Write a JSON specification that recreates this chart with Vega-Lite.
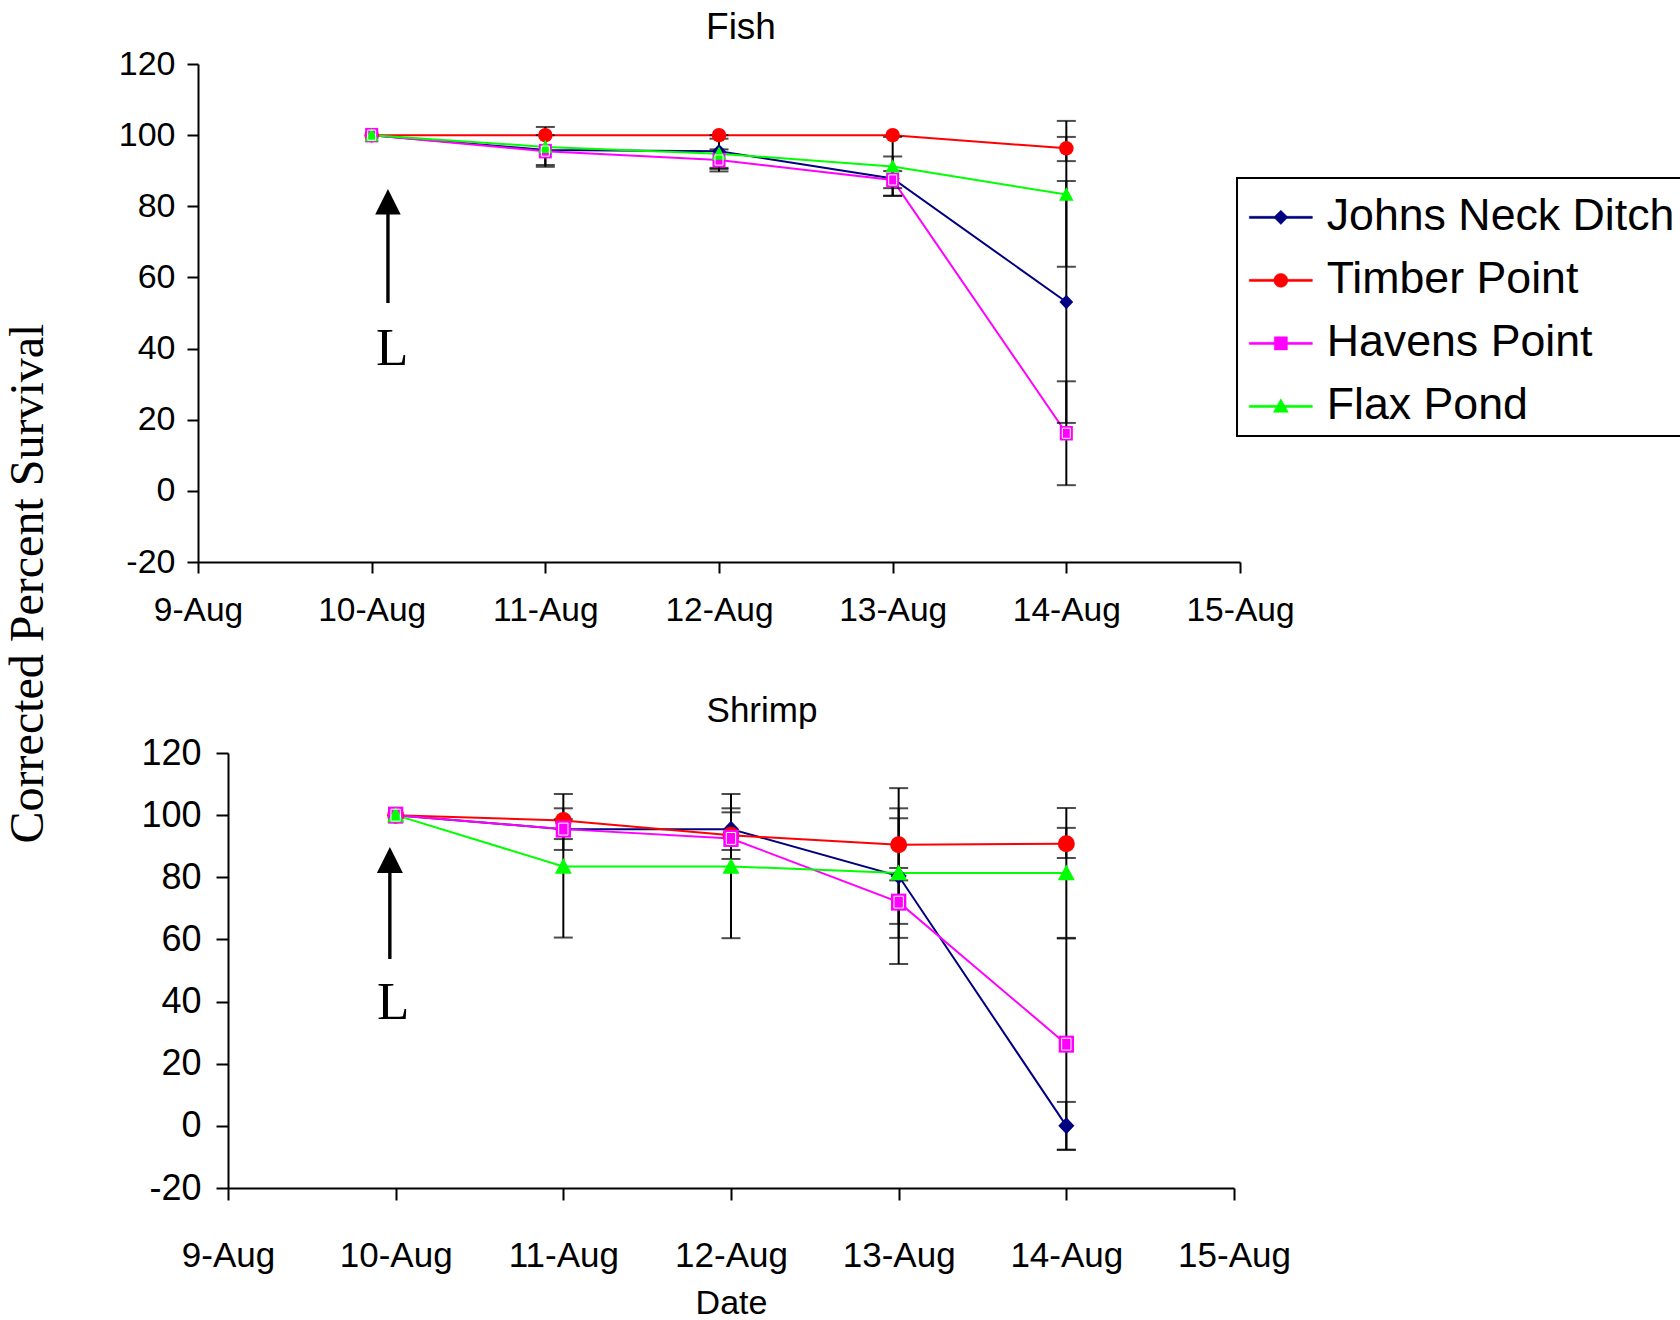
{
  "$schema": "https://vega.github.io/schema/vega-lite/v6.json",
  "background": "white",
  "padding": {"left": 5, "top": 9, "right": 0, "bottom": 0},
  "title": {"text": "Corrected Percent Survival", "orient": "left", "anchor": "middle", "font": "Liberation Serif", "fontSize": 48, "fontWeight": "normal", "color": "black", "offset": 65, "dx": 81},
  "config": {
    "view": {"stroke": null},
    "font": "Liberation Sans",
    "axis": {"domainColor": "black", "domainWidth": 2, "tickColor": "black", "tickWidth": 2, "labelColor": "black", "labelFont": "Liberation Sans", "grid": false, "titleColor": "black", "titleFontWeight": "normal", "titleFont": "Liberation Sans"},
    "title": {"color": "black", "fontWeight": "normal", "font": "Liberation Sans"}
  },
  "datasets": {
    "survival": [
      {"panel": "Fish", "site": "Johns Neck Ditch", "date": "2002-08-10", "value": 100, "lo": null, "hi": null},
      {"panel": "Fish", "site": "Johns Neck Ditch", "date": "2002-08-11", "value": 95.8, "lo": 91.6, "hi": 100},
      {"panel": "Fish", "site": "Johns Neck Ditch", "date": "2002-08-12", "value": 95.5, "lo": 90.8, "hi": 100},
      {"panel": "Fish", "site": "Johns Neck Ditch", "date": "2002-08-13", "value": 87.8, "lo": 83, "hi": 94},
      {"panel": "Fish", "site": "Johns Neck Ditch", "date": "2002-08-14", "value": 53.1, "lo": 19.1, "hi": 87.1},
      {"panel": "Fish", "site": "Timber Point", "date": "2002-08-10", "value": 100, "lo": null, "hi": null},
      {"panel": "Fish", "site": "Timber Point", "date": "2002-08-11", "value": 100, "lo": null, "hi": null},
      {"panel": "Fish", "site": "Timber Point", "date": "2002-08-12", "value": 100, "lo": null, "hi": null},
      {"panel": "Fish", "site": "Timber Point", "date": "2002-08-13", "value": 100, "lo": null, "hi": null},
      {"panel": "Fish", "site": "Timber Point", "date": "2002-08-14", "value": 96.3, "lo": 92.7, "hi": 99.5},
      {"panel": "Fish", "site": "Havens Point", "date": "2002-08-10", "value": 100, "lo": null, "hi": null},
      {"panel": "Fish", "site": "Havens Point", "date": "2002-08-11", "value": 95.5, "lo": null, "hi": null},
      {"panel": "Fish", "site": "Havens Point", "date": "2002-08-12", "value": 93, "lo": 89.8, "hi": 96},
      {"panel": "Fish", "site": "Havens Point", "date": "2002-08-13", "value": 87.4, "lo": 85.1, "hi": 89.9},
      {"panel": "Fish", "site": "Havens Point", "date": "2002-08-14", "value": 16.2, "lo": 1.6, "hi": 30.8},
      {"panel": "Fish", "site": "Flax Pond", "date": "2002-08-10", "value": 100, "lo": null, "hi": null},
      {"panel": "Fish", "site": "Flax Pond", "date": "2002-08-11", "value": 96.7, "lo": 91.1, "hi": 102.3},
      {"panel": "Fish", "site": "Flax Pond", "date": "2002-08-12", "value": 94.8, "lo": 90.5, "hi": 99},
      {"panel": "Fish", "site": "Flax Pond", "date": "2002-08-13", "value": 91.2, "lo": 82.9, "hi": 99.5},
      {"panel": "Fish", "site": "Flax Pond", "date": "2002-08-14", "value": 83.3, "lo": 63, "hi": 104},
      {"panel": "Shrimp", "site": "Johns Neck Ditch", "date": "2002-08-10", "value": 100, "lo": null, "hi": null},
      {"panel": "Shrimp", "site": "Johns Neck Ditch", "date": "2002-08-11", "value": 95.5, "lo": 88.8, "hi": 102.2},
      {"panel": "Shrimp", "site": "Johns Neck Ditch", "date": "2002-08-12", "value": 95.5, "lo": 88.8, "hi": 102.2},
      {"panel": "Shrimp", "site": "Johns Neck Ditch", "date": "2002-08-13", "value": 80.4, "lo": 52.1, "hi": 108.7},
      {"panel": "Shrimp", "site": "Johns Neck Ditch", "date": "2002-08-14", "value": 0, "lo": -7.7, "hi": 7.7},
      {"panel": "Shrimp", "site": "Timber Point", "date": "2002-08-10", "value": 100, "lo": null, "hi": null},
      {"panel": "Shrimp", "site": "Timber Point", "date": "2002-08-11", "value": 98.3, "lo": null, "hi": null},
      {"panel": "Shrimp", "site": "Timber Point", "date": "2002-08-12", "value": 93.5, "lo": null, "hi": null},
      {"panel": "Shrimp", "site": "Timber Point", "date": "2002-08-13", "value": 90.5, "lo": 83, "hi": 99},
      {"panel": "Shrimp", "site": "Timber Point", "date": "2002-08-14", "value": 90.8, "lo": 86.2, "hi": 95.9},
      {"panel": "Shrimp", "site": "Havens Point", "date": "2002-08-10", "value": 100, "lo": null, "hi": null},
      {"panel": "Shrimp", "site": "Havens Point", "date": "2002-08-11", "value": 95.5, "lo": 92.3, "hi": 98.7},
      {"panel": "Shrimp", "site": "Havens Point", "date": "2002-08-12", "value": 92.5, "lo": 85.9, "hi": 100.9},
      {"panel": "Shrimp", "site": "Havens Point", "date": "2002-08-13", "value": 72, "lo": 65, "hi": 79},
      {"panel": "Shrimp", "site": "Havens Point", "date": "2002-08-14", "value": 26.3, "lo": -7.7, "hi": 60.3},
      {"panel": "Shrimp", "site": "Flax Pond", "date": "2002-08-10", "value": 100, "lo": null, "hi": null},
      {"panel": "Shrimp", "site": "Flax Pond", "date": "2002-08-11", "value": 83.5, "lo": 60.6, "hi": 106.8},
      {"panel": "Shrimp", "site": "Flax Pond", "date": "2002-08-12", "value": 83.5, "lo": 60.4, "hi": 106.8},
      {"panel": "Shrimp", "site": "Flax Pond", "date": "2002-08-13", "value": 81.4, "lo": 60.5, "hi": 102.2},
      {"panel": "Shrimp", "site": "Flax Pond", "date": "2002-08-14", "value": 81.4, "lo": 60.5, "hi": 102.3}
    ],
    "arrows": [
      {"panel": "Fish", "date": "2002-08-10T02:15:00Z", "base": 52.8, "head": 81.3, "ldate": "2002-08-10T02:50:00Z", "ly": 35.4, "label": "L"},
      {"panel": "Shrimp", "date": "2002-08-09T23:10:00Z", "base": 53.7, "head": 85.6, "ldate": "2002-08-09T23:38:00Z", "ly": 34.4, "label": "L"}
    ]
  },
  "concat": [
    {
      "width": 1042,
      "height": 498,
      "title": {"text": "Fish", "fontSize": 37, "offset": -29, "dx": 22, "baseline": "alphabetic", "anchor": "middle"},
      "layer": [
        {
          "data": {"name": "survival"},
          "transform": [{"filter": "datum.panel === 'Fish'"}],
          "layer": [
            {
              "mark": {"type": "line", "strokeWidth": 2},
              "encoding": {
                "x": {"field": "date", "type": "temporal", "scale": {"type": "utc", "domain": [{"year": 2002, "month": 8, "date": 9, "utc": true}, {"year": 2002, "month": 8, "date": 15, "utc": true}]}, "axis": {"format": "%-d-%b", "tickCount": {"interval": "day", "step": 1}, "title": null, "labelFontSize": 33.5, "tickSize": 11, "labelPadding": 21, "labelFlush": false, "labelOverlap": false}},
                "y": {"field": "value", "type": "quantitative", "scale": {"domain": [-20, 120], "nice": false}, "axis": {"values": [-20, 0, 20, 40, 60, 80, 100, 120], "labelExpr": "toString(datum.value)", "title": null, "labelFontSize": 34, "tickSize": 11, "labelPadding": 12}},
                "color": {"field": "site", "type": "nominal", "scale": {"domain": ["Johns Neck Ditch", "Timber Point", "Havens Point", "Flax Pond"], "range": ["#000080", "#FF0000", "#FF00FF", "#00FF00"]},
                  "legend": {"orient": "none", "legendX": 1039, "legendY": 114, "title": " ", "titleFontSize": 1, "titlePadding": 9, "direction": "vertical", "strokeColor": "black", "fillColor": "white", "padding": 7, "labelFont": "Liberation Sans", "labelFontSize": 44.7, "labelColor": "black", "labelLimit": 0, "symbolSize": 225, "symbolOffset": 14.5, "labelOffset": 23.5, "rowPadding": 17, "symbolStrokeWidth": 0.5,
                    "encode": {
                      "legend": {"update": {"strokeWidth": {"value": 2}}},
                      "symbols": {"update": {
                        "shape": {"signal": "datum.value === 'Johns Neck Ditch' ? 'M-4.2,-0.14H4.2V0.14H-4.2ZM0,-0.95L0.95,0L0,0.95L-0.95,0Z' : datum.value === 'Timber Point' ? 'M-4.2,-0.14H4.2V0.14H-4.2ZM-0.93,0A0.93,0.93 0 1,1 0.93,0A0.93,0.93 0 1,1 -0.93,0Z' : datum.value === 'Havens Point' ? 'M-4.2,-0.14H4.2V0.14H-4.2ZM-0.87,-0.87H0.87V0.87H-0.87Z' : 'M-4.2,-0.14H4.2V0.14H-4.2ZM0,-1L1,0.8L-1,0.8Z'"}
                      }}
                    }
                  }
                },
                "detail": {"field": "site"}
              }
            },
            {
              "transform": [{"filter": "datum.lo != null"}],
              "mark": {"type": "rule", "strokeWidth": 2, "color": "black"},
              "encoding": {
                "x": {"field": "date", "type": "temporal"},
                "y": {"field": "lo", "type": "quantitative"},
                "y2": {"field": "hi"}
              }
            },
            {
              "transform": [{"filter": "datum.lo != null"}],
              "mark": {"type": "tick", "orient": "horizontal", "size": 19, "thickness": 2, "color": "black"},
              "encoding": {"x": {"field": "date", "type": "temporal"}, "y": {"field": "lo", "type": "quantitative"}}
            },
            {
              "transform": [{"filter": "datum.hi != null"}],
              "mark": {"type": "tick", "orient": "horizontal", "size": 19, "thickness": 2, "color": "black"},
              "encoding": {"x": {"field": "date", "type": "temporal"}, "y": {"field": "hi", "type": "quantitative"}}
            },
            {
              "mark": {"type": "point", "filled": true, "opacity": 1, "size": 210, "strokeWidth": 0},
              "encoding": {
                "x": {"field": "date", "type": "temporal"},
                "y": {"field": "value", "type": "quantitative"},
                "color": {"field": "site", "type": "nominal", "scale": {"domain": ["Johns Neck Ditch", "Timber Point", "Havens Point", "Flax Pond"], "range": ["#000080", "#FF0000", "#FF00FF", "#00FF00"]},
                  "legend": {"orient": "none", "legendX": 1039, "legendY": 114, "title": " ", "titleFontSize": 1, "titlePadding": 9, "direction": "vertical", "strokeColor": "black", "fillColor": "white", "padding": 7, "labelFont": "Liberation Sans", "labelFontSize": 44.7, "labelColor": "black", "labelLimit": 0, "symbolSize": 225, "symbolOffset": 14.5, "labelOffset": 23.5, "rowPadding": 17, "symbolStrokeWidth": 0.5,
                    "encode": {
                      "legend": {"update": {"strokeWidth": {"value": 2}}},
                      "symbols": {"update": {
                        "shape": {"signal": "datum.value === 'Johns Neck Ditch' ? 'M-4.2,-0.14H4.2V0.14H-4.2ZM0,-0.95L0.95,0L0,0.95L-0.95,0Z' : datum.value === 'Timber Point' ? 'M-4.2,-0.14H4.2V0.14H-4.2ZM-0.93,0A0.93,0.93 0 1,1 0.93,0A0.93,0.93 0 1,1 -0.93,0Z' : datum.value === 'Havens Point' ? 'M-4.2,-0.14H4.2V0.14H-4.2ZM-0.87,-0.87H0.87V0.87H-0.87Z' : 'M-4.2,-0.14H4.2V0.14H-4.2ZM0,-1L1,0.8L-1,0.8Z'"}
                      }}
                    }
                  }
                },
                "shape": {"field": "site", "type": "nominal", "scale": {"domain": ["Flax Pond", "Havens Point", "Johns Neck Ditch", "Timber Point"], "range": ["M0,-1L1,0.85L-1,0.85Z", "M-0.9,-1H0.9V1H-0.9Z", "M0,-1L0.95,0L0,1L-0.95,0Z", "circle"]}, "legend": null}
              }
            },
            {
              "transform": [{"filter": "datum.site === 'Havens Point'"}],
              "mark": {"type": "point", "filled": false, "opacity": 1, "size": 210, "shape": "M-0.55,-0.7H0.55V0.7H-0.55Z", "stroke": "white", "strokeWidth": 1},
              "encoding": {
                "x": {"field": "date", "type": "temporal"},
                "y": {"field": "value", "type": "quantitative"}
              }
            }
          ]
        },
        {
          "data": {"name": "arrows"},
          "transform": [{"filter": "datum.panel === 'Fish'"}],
          "layer": [
            {
              "mark": {"type": "rule", "strokeWidth": 3.4, "color": "black"},
              "encoding": {"x": {"field": "date", "type": "temporal"}, "y": {"field": "base", "type": "quantitative"}, "y2": {"field": "head"}}
            },
            {
              "mark": {"type": "point", "filled": true, "color": "black", "opacity": 1, "shape": "M0,-1L1,1L-1,1Z", "size": 650, "strokeWidth": 0},
              "encoding": {"x": {"field": "date", "type": "temporal"}, "y": {"field": "head", "type": "quantitative"}}
            },
            {
              "mark": {"type": "text", "font": "Liberation Serif", "fontSize": 53, "align": "center", "baseline": "alphabetic", "color": "black"},
              "encoding": {"x": {"field": "ldate", "type": "temporal"}, "y": {"field": "ly", "type": "quantitative"}, "text": {"field": "label"}}
            }
          ]
        }
      ]
    },
    {
      "width": 1036,
      "height": 435,
      "title": {"text": "Shrimp", "fontSize": 35, "offset": -21.5, "dx": 46, "baseline": "alphabetic", "anchor": "middle"},
      "layer": [
        {
          "data": {"name": "survival"},
          "transform": [{"filter": "datum.panel === 'Shrimp'"}],
          "layer": [
            {
              "mark": {"type": "line", "strokeWidth": 2},
              "encoding": {
                "x": {"field": "date", "type": "temporal", "scale": {"type": "utc", "range": [30, 1036], "domain": [{"year": 2002, "month": 8, "date": 9, "utc": true}, {"year": 2002, "month": 8, "date": 15, "utc": true}]}, "axis": {"format": "%-d-%b", "tickCount": {"interval": "day", "step": 1}, "title": "Date", "titleFontSize": 34, "titlePadding": 13, "labelFontSize": 35, "tickSize": 12, "labelPadding": 38, "labelFlush": false, "labelOverlap": false}},
                "y": {"field": "value", "type": "quantitative", "scale": {"domain": [-20, 120], "nice": false}, "axis": {"values": [-20, 0, 20, 40, 60, 80, 100, 120], "labelExpr": "toString(datum.value)", "title": null, "offset": -30, "labelFontSize": 36, "tickSize": 12, "labelPadding": 15}},
                "color": {"field": "site", "type": "nominal", "scale": {"domain": ["Johns Neck Ditch", "Timber Point", "Havens Point", "Flax Pond"], "range": ["#000080", "#FF0000", "#FF00FF", "#00FF00"]},
                  "legend": {"orient": "none", "legendX": 1039, "legendY": 114, "title": " ", "titleFontSize": 1, "titlePadding": 9, "direction": "vertical", "strokeColor": "black", "fillColor": "white", "padding": 7, "labelFont": "Liberation Sans", "labelFontSize": 44.7, "labelColor": "black", "labelLimit": 0, "symbolSize": 225, "symbolOffset": 14.5, "labelOffset": 23.5, "rowPadding": 17, "symbolStrokeWidth": 0.5,
                    "encode": {
                      "legend": {"update": {"strokeWidth": {"value": 2}}},
                      "symbols": {"update": {
                        "shape": {"signal": "datum.value === 'Johns Neck Ditch' ? 'M-4.2,-0.14H4.2V0.14H-4.2ZM0,-0.95L0.95,0L0,0.95L-0.95,0Z' : datum.value === 'Timber Point' ? 'M-4.2,-0.14H4.2V0.14H-4.2ZM-0.93,0A0.93,0.93 0 1,1 0.93,0A0.93,0.93 0 1,1 -0.93,0Z' : datum.value === 'Havens Point' ? 'M-4.2,-0.14H4.2V0.14H-4.2ZM-0.87,-0.87H0.87V0.87H-0.87Z' : 'M-4.2,-0.14H4.2V0.14H-4.2ZM0,-1L1,0.8L-1,0.8Z'"}
                      }}
                    }
                  }
                },
                "detail": {"field": "site"}
              }
            },
            {
              "transform": [{"filter": "datum.lo != null"}],
              "mark": {"type": "rule", "strokeWidth": 2, "color": "black"},
              "encoding": {
                "x": {"field": "date", "type": "temporal"},
                "y": {"field": "lo", "type": "quantitative"},
                "y2": {"field": "hi"}
              }
            },
            {
              "transform": [{"filter": "datum.lo != null"}],
              "mark": {"type": "tick", "orient": "horizontal", "size": 19, "thickness": 2, "color": "black"},
              "encoding": {"x": {"field": "date", "type": "temporal"}, "y": {"field": "lo", "type": "quantitative"}}
            },
            {
              "transform": [{"filter": "datum.hi != null"}],
              "mark": {"type": "tick", "orient": "horizontal", "size": 19, "thickness": 2, "color": "black"},
              "encoding": {"x": {"field": "date", "type": "temporal"}, "y": {"field": "hi", "type": "quantitative"}}
            },
            {
              "mark": {"type": "point", "filled": true, "opacity": 1, "size": 289, "strokeWidth": 0},
              "encoding": {
                "x": {"field": "date", "type": "temporal"},
                "y": {"field": "value", "type": "quantitative"},
                "color": {"field": "site", "type": "nominal", "scale": {"domain": ["Johns Neck Ditch", "Timber Point", "Havens Point", "Flax Pond"], "range": ["#000080", "#FF0000", "#FF00FF", "#00FF00"]},
                  "legend": {"orient": "none", "legendX": 1039, "legendY": 114, "title": " ", "titleFontSize": 1, "titlePadding": 9, "direction": "vertical", "strokeColor": "black", "fillColor": "white", "padding": 7, "labelFont": "Liberation Sans", "labelFontSize": 44.7, "labelColor": "black", "labelLimit": 0, "symbolSize": 225, "symbolOffset": 14.5, "labelOffset": 23.5, "rowPadding": 17, "symbolStrokeWidth": 0.5,
                    "encode": {
                      "legend": {"update": {"strokeWidth": {"value": 2}}},
                      "symbols": {"update": {
                        "shape": {"signal": "datum.value === 'Johns Neck Ditch' ? 'M-4.2,-0.14H4.2V0.14H-4.2ZM0,-0.95L0.95,0L0,0.95L-0.95,0Z' : datum.value === 'Timber Point' ? 'M-4.2,-0.14H4.2V0.14H-4.2ZM-0.93,0A0.93,0.93 0 1,1 0.93,0A0.93,0.93 0 1,1 -0.93,0Z' : datum.value === 'Havens Point' ? 'M-4.2,-0.14H4.2V0.14H-4.2ZM-0.87,-0.87H0.87V0.87H-0.87Z' : 'M-4.2,-0.14H4.2V0.14H-4.2ZM0,-1L1,0.8L-1,0.8Z'"}
                      }}
                    }
                  }
                },
                "shape": {"field": "site", "type": "nominal", "scale": {"domain": ["Flax Pond", "Havens Point", "Johns Neck Ditch", "Timber Point"], "range": ["M0,-1L1,0.85L-1,0.85Z", "M-0.9,-1H0.9V1H-0.9Z", "M0,-1L0.95,0L0,1L-0.95,0Z", "circle"]}, "legend": null}
              }
            },
            {
              "transform": [{"filter": "datum.site === 'Havens Point'"}],
              "mark": {"type": "point", "filled": false, "opacity": 1, "size": 289, "shape": "M-0.55,-0.7H0.55V0.7H-0.55Z", "stroke": "white", "strokeWidth": 1},
              "encoding": {
                "x": {"field": "date", "type": "temporal"},
                "y": {"field": "value", "type": "quantitative"}
              }
            }
          ]
        },
        {
          "data": {"name": "arrows"},
          "transform": [{"filter": "datum.panel === 'Shrimp'"}],
          "layer": [
            {
              "mark": {"type": "rule", "strokeWidth": 3.4, "color": "black"},
              "encoding": {"x": {"field": "date", "type": "temporal"}, "y": {"field": "base", "type": "quantitative"}, "y2": {"field": "head"}}
            },
            {
              "mark": {"type": "point", "filled": true, "color": "black", "opacity": 1, "shape": "M0,-1L1,1L-1,1Z", "size": 676, "strokeWidth": 0},
              "encoding": {"x": {"field": "date", "type": "temporal"}, "y": {"field": "head", "type": "quantitative"}}
            },
            {
              "mark": {"type": "text", "font": "Liberation Serif", "fontSize": 53, "align": "center", "baseline": "alphabetic", "color": "black"},
              "encoding": {"x": {"field": "ldate", "type": "temporal"}, "y": {"field": "ly", "type": "quantitative"}, "text": {"field": "label"}}
            }
          ]
        }
      ]
    }
  ],
  "columns": 1,
  "spacing": 66,
  "align": "none",
  "bounds": "full",
  "center": false
}
